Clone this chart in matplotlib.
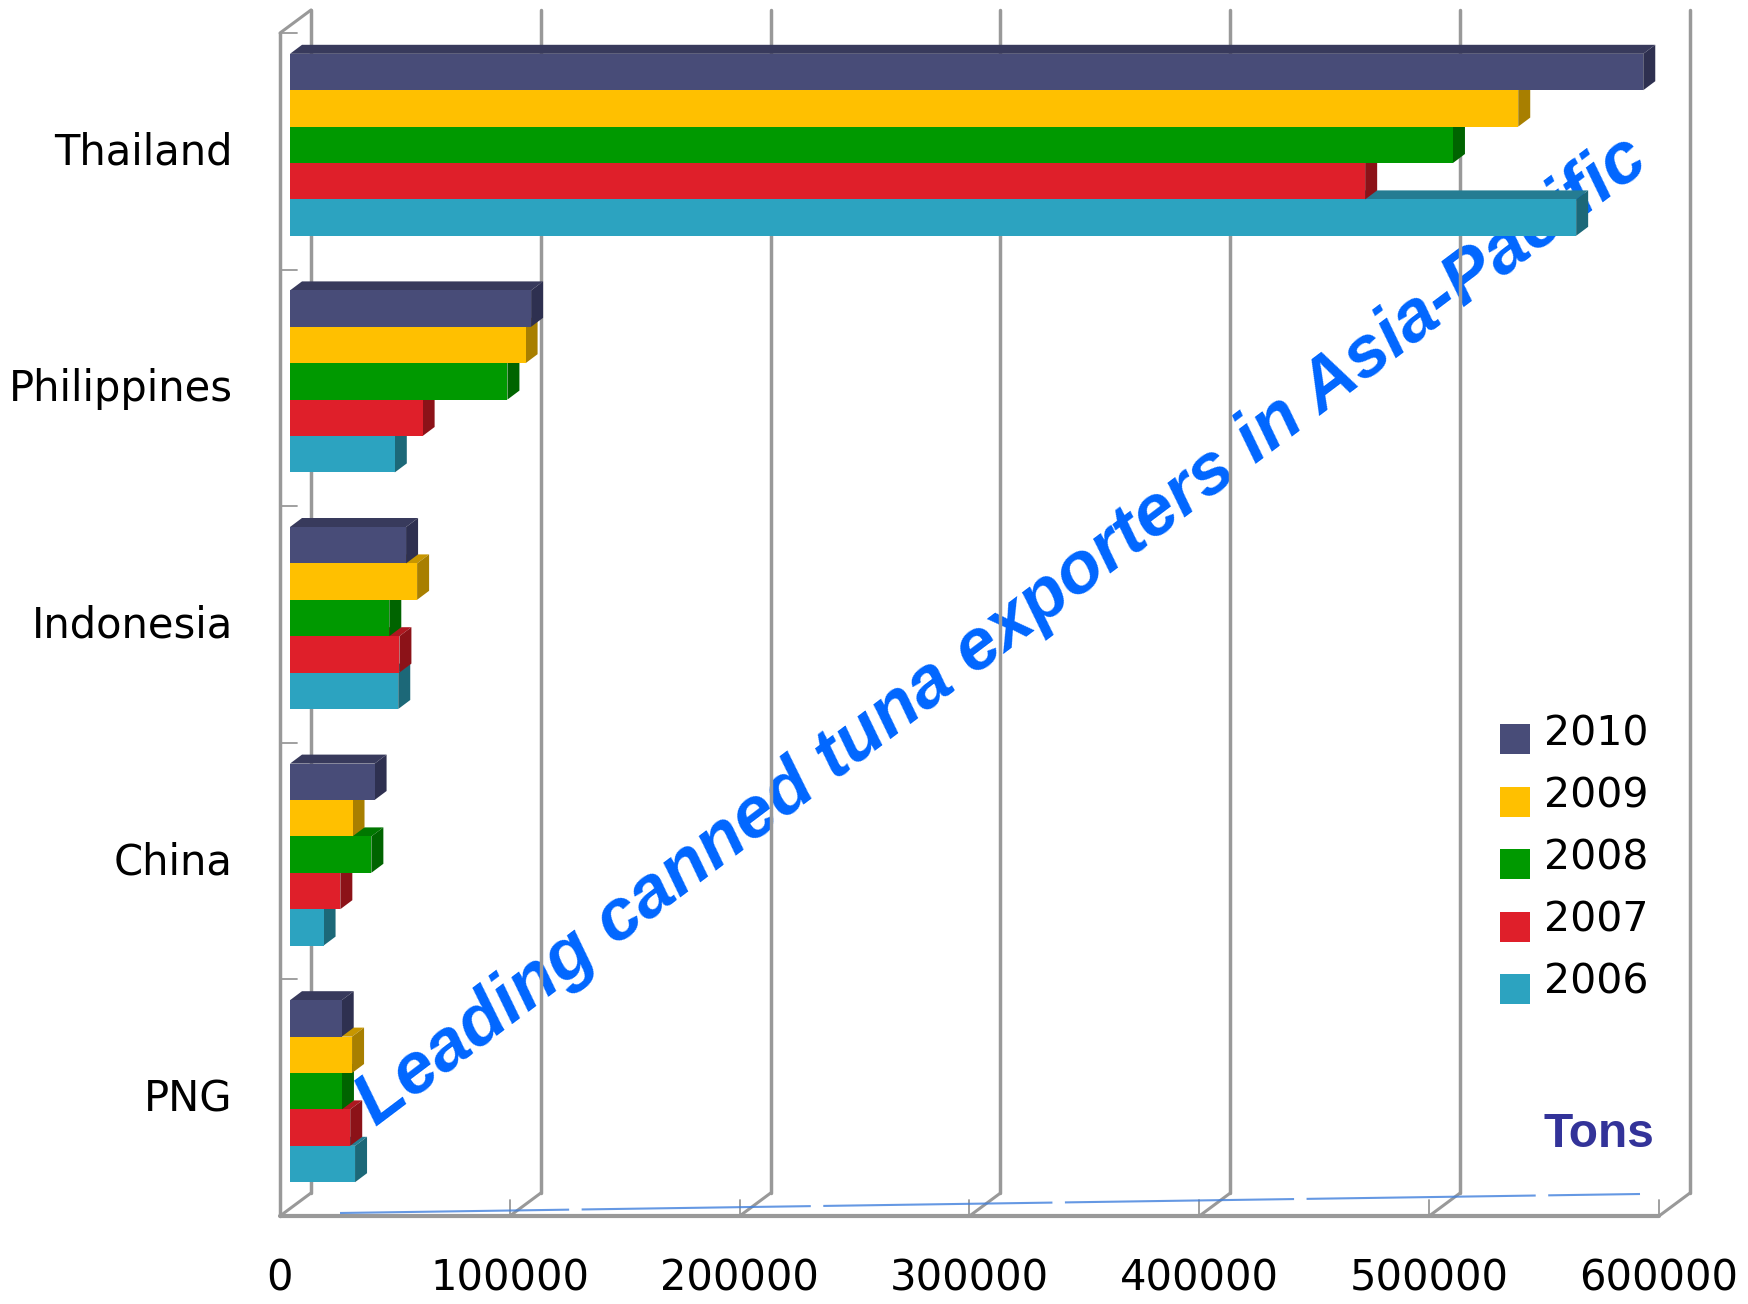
import matplotlib
matplotlib.use('Agg')
import matplotlib.pyplot as plt
from matplotlib.patches import Polygon, Rectangle

# (tons)
countries = ['Thailand', 'Philippines', 'Indonesia', 'China', 'PNG']
years = ['2010', '2009', '2008', '2007', '2006']
tons_2010 = [588800, 104900, 50500, 36800, 22500]
tons_2009 = [534400, 102500, 55300, 27200, 27000]
tons_2008 = [506000, 94600, 43200, 35400, 22600]
tons_2007 = [467800, 57700, 47600, 21900, 26200]
tons_2006 = [559600, 45600, 47100, 14600, 28300]
series = [tons_2010, tons_2009, tons_2008, tons_2007, tons_2006]
x_ticks = [0, 100000, 200000, 300000, 400000, 500000, 600000]

front_colors = ['#484C78', '#FFC000', '#009900', '#DF1F2A', '#2CA3C0']
top_colors = ['#383A5C', '#C79600', '#007700', '#AE1820', '#257C92']
side_colors = ['#2E3050', '#A87F00', '#006400', '#8C1218', '#1C6878']

W, H = 1749, 1304
LEFT, RIGHT, TOP, BOTTOM = 280, 1659, 33, 1216

fig = plt.figure(figsize=(W / 100, H / 100), dpi=100)
ax = fig.add_axes([LEFT / W, 1 - BOTTOM / H, (RIGHT - LEFT) / W, (BOTTOM - TOP) / H])
ax.set_xlim(0, 600000)
ax.set_ylim(5, 0)
for s in ax.spines.values():
    s.set_visible(False)

# size of one pixel in data units
XPX = 600000 / (RIGHT - LEFT)
YPX = 5 / (BOTTOM - TOP)

WALL_DX, WALL_DY = 31 * XPX, -23 * YPX
BAR_DX, BAR_DY = 12 * XPX, -9 * YPX
GRAY = '#999999'


def wall_line(xs, ys, lw=2.5):
    ax.plot(xs, ys, color=GRAY, lw=lw, clip_on=False, zorder=1, solid_capstyle='round')


# walls and floor
for t in x_ticks:
    wall_line([t + WALL_DX] * 2, [5 + WALL_DY, WALL_DY])
    wall_line([t, t + WALL_DX], [5, 5 + WALL_DY], lw=2.2)
    wall_line([t, t], [5, 5 - 16 * YPX], lw=1.3)
wall_line([0, 0], [0, 5])
wall_line([0, WALL_DX], [0, WALL_DY], lw=2.2)
wall_line([0, 600000], [5, 5], lw=3)
for i in range(5):
    wall_line([0, 17 * XPX], [i, i], lw=1.3)

# bars, bottom one first so the upper bars cover the top faces
bar_h = 36.4 * YPX
x0 = 10 * XPX
for k in range(4, -1, -1):
    for i, v in enumerate(series[k]):
        yc = i + 0.5 - 6.5 * YPX + (k - 2) * bar_h
        yt, yb = yc - bar_h / 2, yc + bar_h / 2
        xe = x0 + v
        ax.add_patch(Polygon([(x0, yt), (xe, yt), (xe + BAR_DX, yt + BAR_DY), (x0 + BAR_DX, yt + BAR_DY)],
                             facecolor=top_colors[k], edgecolor='none', zorder=3 + (4 - k) * 0.1, clip_on=False))
        ax.add_patch(Polygon([(xe, yt), (xe, yb), (xe + BAR_DX, yb + BAR_DY), (xe + BAR_DX, yt + BAR_DY)],
                             facecolor=side_colors[k], edgecolor='none', zorder=3 + (4 - k) * 0.1, clip_on=False))
        ax.barh(yc, v, height=bar_h, left=x0, color=front_colors[k], zorder=3 + (4 - k) * 0.1, clip_on=False)

# axis labels
ax.set_xticks(x_ticks)
ax.set_xticklabels([str(t) for t in x_ticks], fontsize=30)
ax.set_yticks([i + 0.5 - 3 * YPX for i in range(5)])
ax.set_yticklabels(countries, fontsize=30)
ax.tick_params(axis='x', length=0, pad=30)
ax.tick_params(axis='y', length=0, pad=34)


def fx(x):
    return x / W


def fy(y):
    return 1 - y / H


# legend
for k, year in enumerate(years):
    fig.patches.append(Rectangle((fx(1500), fy(754 + 62.5 * k)), 30 / W, 30 / H, transform=fig.transFigure,
                                 facecolor=front_colors[k], edgecolor='none'))
    fig.text(fx(1544), fy(735 + 62 * k), year, fontsize=29.5, va='center', ha='left')

fig.text(fx(1544), fy(1147), 'Tons', fontsize=34.5, fontweight='bold', color='#333399',
         family='Liberation Sans', va='baseline', ha='left')

# the big slanted title, it sits behind the walls and the bars
ax.text(fx(376), fy(1127), 'Leading canned tuna exporters in Asia-Pacific', fontsize=52.5,
        fontweight='bold', fontstyle='italic', color='#0066FF', family='Liberation Sans',
        rotation=37, rotation_mode='anchor', va='baseline', ha='left', zorder=0.5,
        transform=fig.transFigure, clip_on=False)

# flattened reflection of the title on the floor
ax.plot([(340 - LEFT) * XPX, (1640 - LEFT) * XPX],
        [5 - 3 * YPX, 5 - 22 * YPX], color='#3F7FDC', lw=1.5, alpha=0.8,
        dashes=(110, 6), clip_on=False, zorder=2)

fig.savefig('out.png', dpi=100)
